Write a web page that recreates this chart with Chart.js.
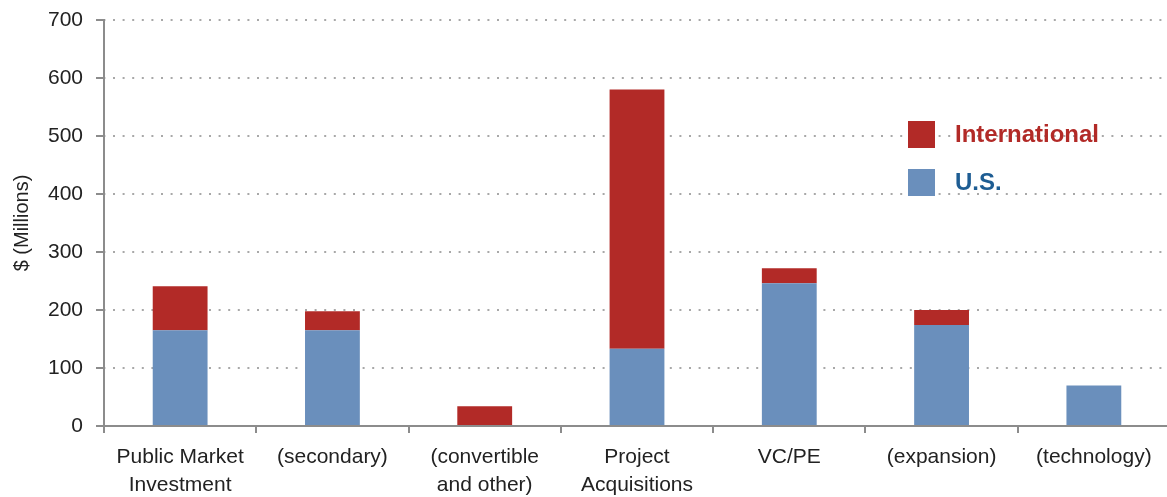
<!DOCTYPE html>
<html><head><meta charset="utf-8">
<script src="https://cdn.jsdelivr.net/npm/chart.js@4.4.1/dist/chart.umd.min.js"></script>
<style>html,body{margin:0;padding:0;overflow:hidden;background:#fff}</style>
</head><body>
<canvas id="c" width="1170" height="497" style="display:block;width:1170px;height:497px"></canvas>
<script>
const categories = [["Public Market","Investment"],"(secondary)",["(convertible","and other)"],["Project","Acquisitions"],"VC/PE","(expansion)","(technology)"];
const usValues = [165,165,0,133,246,174,70];
const intlValues = [76,33,34,447,26,26,0];
const yTicks = [0,100,200,300,400,500,600,700];
const seriesNames = ["U.S.","International"];
const yTitle = "$ (Millions)";

const FONT = '"Liberation Sans", Arial, sans-serif';
const RED = '#b22a27';
const BLUE = '#6a8fbc';
const AXIS = '#8c8c8c';

const legendPlugin = {
  id: 'insideLegend',
  afterDatasetsDraw(chart) {
    const ctx = chart.ctx;
    const items = [
      {ds: chart.data.datasets[1], text: '#b22a27', y: 121},
      {ds: chart.data.datasets[0], text: '#1e5d93', y: 169}
    ];
    ctx.save();
    ctx.font = 'bold 24px ' + FONT;
    ctx.textBaseline = 'middle';
    ctx.textAlign = 'left';
    items.forEach(it => {
      ctx.fillStyle = it.ds.backgroundColor;
      ctx.fillRect(908, it.y, 27, 27);
      ctx.fillStyle = it.text;
      ctx.fillText(it.ds.label, 955, it.y + 14);
    });
    ctx.restore();
  }
};

new Chart(document.getElementById('c'), {
  type: 'bar',
  data: {
    labels: categories,
    datasets: [
      {label: seriesNames[0], data: usValues, backgroundColor: BLUE, barPercentage: 0.36, categoryPercentage: 1},
      {label: seriesNames[1], data: intlValues, backgroundColor: RED, barPercentage: 0.36, categoryPercentage: 1}
    ]
  },
  options: {
    responsive: false,
    animation: false,
    devicePixelRatio: 1,
    layout: {padding: {top: 20, left: 0, right: 0, bottom: 0}},
    plugins: {legend: {display: false}, tooltip: {enabled: false}},
    scales: {
      x: {
        stacked: true,
        offset: true,
        afterFit: s => { s.height = 71; s.paddingLeft = 0; s.paddingRight = 0; },
        border: {display: true, color: AXIS, width: 2},
        grid: {display: true, drawOnChartArea: false, drawTicks: true, tickLength: 7, color: AXIS, lineWidth: 2, offset: true},
        ticks: {color: '#222', font: {family: FONT, size: 21, lineHeight: 1.33}, padding: 10, maxRotation: 0, autoSkip: false}
      },
      y: {
        stacked: true,
        min: 0, max: 700,
        afterFit: s => { s.width = 104; s.paddingTop = 0; s.paddingBottom = 0; },
        afterBuildTicks: s => { s.ticks = yTicks.map(v => ({value: v})); },
        border: {display: true, color: AXIS, width: 2, dash: [2, 7.6], dashOffset: -8},
        grid: {color: '#a8a8a8', lineWidth: 2, tickLength: 8, tickColor: AXIS, tickWidth: 2, tickBorderDash: []},
        ticks: {color: '#222', font: {family: FONT, size: 21}, padding: 13},
        title: {display: true, text: yTitle, color: '#222', font: {family: FONT, size: 20}, padding: {top: 10, bottom: 0}}
      }
    }
  },
  plugins: [legendPlugin]
});
</script>
</body></html>
